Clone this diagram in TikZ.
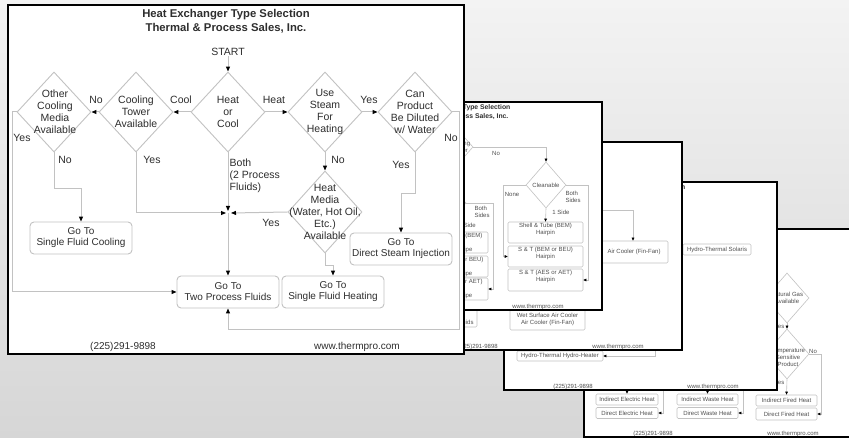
\documentclass[tikz,border=0pt]{standalone}
\usepackage{fontspec}
\setmainfont{Liberation Sans}
\usetikzlibrary{arrows.meta,shapes.geometric}
\definecolor{lnc}{HTML}{C2C2C2}
\definecolor{txc}{HTML}{2E2E2E}
\definecolor{stc}{HTML}{505050}
\definecolor{bgtop}{HTML}{F3F3F3}
\definecolor{bgbot}{HTML}{D6D6D6}
\newcommand\pagettl[3]{%
  \node[ttl] (t1#3) at (#1+131,#2+6) {Heat Exchanger Type Selection};
  \node[ttl] (t2#3) at (#1+131,#2+14.5) {Thermal \& Process Sales, Inc.};}
\newcommand\pageftr[3]{%
  \node[ftr] (f1#3) at (#1+69,#2+205) {(225)291-9898};
  \node[ftr] (f2#3) at (#1+209,#2+205) {www.thermpro.com};}
\begin{document}
\begin{tikzpicture}[x=1pt,y=-1pt,
  conn/.style={draw=lnc, line width=1pt},
  arr/.style={conn, -{Triangle[length=5pt,width=4pt,color=black]}},
  dia/.style={diamond, draw=lnc, line width=0.9pt, minimum width=74pt, minimum height=80pt, inner sep=0pt},
  txt/.style={text=txc, font=\fontsize{10.5}{12}\selectfont, align=center, inner sep=0pt},
  gobox/.style={rectangle, rounded corners=4pt, draw=lnc, line width=0.9pt, minimum width=102pt, minimum height=32pt, inner sep=0pt, text=txc, font=\fontsize{10}{11}\selectfont, align=center},
  pgfill/.style={fill=white},
  pgline/.style={draw=black, line width=1.3pt},
  ttl/.style={text=txc, font=\fontsize{6.8}{7.5}\bfseries\selectfont, inner sep=0pt},
  ftr/.style={text=stc, font=\fontsize{6}{7}\selectfont, inner sep=0pt},
  stxt/.style={text=stc, font=\fontsize{6}{7}\selectfont, inner sep=0pt, align=center},
  sconn/.style={draw=lnc, line width=0.6pt},
  sarr/.style={sconn, -{Triangle[length=3pt,width=2.6pt,color=black]}},
  sdia/.style={diamond, draw=lnc, line width=0.6pt, inner sep=0pt},
  sbox/.style={rectangle, rounded corners=1.2pt, draw=lnc, line width=0.6pt, inner sep=0pt}
]
\useasboundingbox (0,0) rectangle (849,438);
\clip (0,0) rectangle (849,438);
\shade[top color=bgtop, bottom color=bgbot] (0,0) rectangle (849,438);

% ---------------- page 5 (back-most)
\fill[pgfill] (584,229) rectangle (857,437);
\begin{scope}
\clip (584,229) rectangle (857,437);
\pageftr{584}{229}{e}
\node[sdia, minimum width=44pt, minimum height=50pt] (ng) at (787,298) {};
\node[stxt] (ngt) at (787,298) {Natural Gas\\Available};
\node[sdia, minimum width=44pt, minimum height=50pt] (ts) at (787,354) {};
\node[stxt] (tst) at (788,357) {Temperature\\Sensitive\\Product};
\node[sbox, minimum width=61pt, minimum height=11pt] (ifh) at (786.5,400.5) {};
\node[stxt] at (ifh) {Indirect Fired Heat};
\node[sbox, minimum width=61pt, minimum height=12pt] (dfh) at (786.5,414) {};
\node[stxt] at (dfh) {Direct Fired Heat};
\node[sbox, minimum width=61pt, minimum height=11pt] (iwh) at (707.5,399.5) {};
\node[stxt] at (iwh) {Indirect Waste Heat};
\node[sbox, minimum width=61pt, minimum height=11pt] (dwh) at (707.5,413) {};
\node[stxt] at (dwh) {Direct Waste Heat};
\node[sbox, minimum width=62pt, minimum height=11pt] (ieh) at (627,399.5) {};
\node[stxt] at (ieh) {Indirect Electric Heat};
\node[sbox, minimum width=62pt, minimum height=11pt] (deh) at (627,413) {};
\node[stxt] at (deh) {Direct Electric Heat};
\draw[sarr] (ng.south) -- (ts.north);
\draw[sarr] (ts.south) -- (ifh.north);
\coordinate (p5a) at (821,354);
\draw[sarr] (ts.east) -- (p5a) |- (dfh.east);
\node[stxt, anchor=east] (y5a) at (784.5,326) {Yes};
\node[stxt, anchor=east] (y5b) at (784.5,382) {Yes};
\node[stxt] (n5a) at (813,351) {No};
\coordinate (p5b) at (707.5,380);
\draw[sarr] (p5b) -- (iwh.north);
\coordinate (p5c) at (743,380);
\draw[sarr] (p5c) |- (dwh.east);
\coordinate (p5d) at (627,380);
\draw[sarr] (p5d) -- (ieh.north);
\coordinate (p5e) at (663,380);
\draw[sarr] (p5e) |- (deh.east);
\end{scope}
\draw[pgline] (584,229) rectangle (857,437);

% ---------------- page 4
\fill[pgfill] (504,182) rectangle (777,390);
\begin{scope}
\clip (504,182) rectangle (777,390);
\pagettl{504}{182}{d}
\pageftr{504}{182}{d}
\node[sbox, minimum width=68pt, minimum height=11pt] (sol) at (717,249.5) {};
\node[stxt] at (sol) {Hydro-Thermal Solaris};
\coordinate (p4a) at (650,249.5);
\draw[sarr] (p4a) -- (sol.west);
\node[sbox, minimum width=86pt, minimum height=10pt] (hyh) at (560,356) {};
\node[stxt] at (hyh) {Hydro-Thermal Hydro-Heater};
\coordinate (p4b) at (655,330);
\draw[sarr] (p4b) |- (hyh.east);
\end{scope}
\draw[pgline] (504,182) rectangle (777,390);

% ---------------- page 3
\fill[pgfill] (409,142) rectangle (682,350);
\begin{scope}
\clip (409,142) rectangle (682,350);
\pageftr{409}{142}{c}
\node[sbox, minimum width=70pt, minimum height=22pt] (acf) at (633,252) {};
\node[stxt] at (634,252) {Air Cooler (Fin-Fan)};
\coordinate (p3a) at (560,210);
\draw[sarr] (p3a) -| (acf.north);
\node[sbox, minimum width=75pt, minimum height=30pt] (wsa) at (547.5,315) {};
\node[stxt] at (547.5,319) {Wet Surface Air Cooler\\Air Cooler (Fin-Fan)};
\node[sbox, minimum width=59pt, minimum height=22pt] (tp3) at (447.5,316) {};
\node[stxt] at (447.5,318.5) {Go To\\Two Process Fluids};
\end{scope}
\draw[pgline] (409,142) rectangle (682,350);

% ---------------- page 2
\fill[pgfill] (329,102) rectangle (602,310);
\begin{scope}
\clip (329,102) rectangle (602,310);
\pagettl{329}{102}{b}
\pageftr{329}{102}{b}
\node[sdia, minimum width=42pt, minimum height=48pt] (d2a) at (452,147) {};
\node[stxt] (d2at) at (460,147) {Cooling\\Water};
\node[sdia, minimum width=40pt, minimum height=46pt] (cl) at (546,185) {};
\node[stxt] at (cl) {Cleanable};
\draw[sarr] (d2a.east) -| (cl.north);
\node[stxt] (n2a) at (496,153) {No};
\node[sbox, minimum width=75pt, minimum height=21pt] (ba) at (545.5,232.5) {};
\node[stxt] at (545.5,229.5) {Shell \& Tube (BEM)\\Hairpin};
\node[sbox, minimum width=75pt, minimum height=21pt] (bb) at (545.5,256.5) {};
\node[stxt] at (545.5,253.5) {S \& T (BEM or BEU)\\Hairpin};
\node[sbox, minimum width=75pt, minimum height=22pt] (bc) at (545.5,280) {};
\node[stxt] at (545.5,276.5) {S \& T (AES or AET)\\Hairpin};
\coordinate (p2a) at (503,185);
\draw[sarr] (cl.west) -- (p2a) |- (bb.west);
\coordinate (p2b) at (588,185);
\draw[sarr] (cl.east) -- (p2b) |- (bc.east);
\draw[sarr] (cl.south) -- (ba.north);
\node[stxt] (none2) at (512,194) {None};
\node[stxt, align=left] (both2) at (573,197) {Both\\Sides};
\node[stxt] (one2) at (561,212) {1 Side};
% left column (mostly hidden)
\node[sdia, minimum width=42pt, minimum height=46pt] (d2b) at (445,203) {};
\node[sbox, minimum width=64pt, minimum height=21pt] (ba2) at (456,242.5) {};
\node[stxt] at (456,242.5) {Shell \& Tube (BEM)\\Hairpin\\Double Pipe};
\node[sbox, minimum width=64pt, minimum height=21pt] (bb2) at (456,266.5) {};
\node[stxt] at (456,266.5) {S \& T (BEM or BEU)\\Hairpin\\Double Pipe};
\node[sbox, minimum width=64pt, minimum height=22pt] (bc2) at (456,289) {};
\node[stxt] at (456,289) {S \& T (AES or AET)\\Hairpin\\Double Pipe};
\coordinate (p2c) at (493,203);
\draw[sarr] (d2b.east) -- (p2c) |- (bc2.east);
\node[stxt, align=left] (both2b) at (482,212) {Both\\Sides};
\node[stxt, anchor=east] (one2b) at (476,225) {1 Side};
\end{scope}
\draw[pgline] (329,102) rectangle (602,310);

% ---------------- page 1 (front)
\fill[pgfill] (8,5) rectangle (464,354);
\node[text=txc, font=\fontsize{11.3}{13}\bfseries\selectfont, inner sep=0pt] (title1) at (226,15) {Heat Exchanger Type Selection};
\node[text=txc, font=\fontsize{11.3}{13}\bfseries\selectfont, inner sep=0pt] (title2) at (226,28) {Thermal \& Process Sales, Inc.};
\node[txt] (start) at (228,52) {START};

\node[dia] (hc) at (228,112) {};
\node[txt] at (hc) {Heat\\or\\Cool};
\node[dia] (ct) at (136,112) {};
\node[txt] at (ct) {Cooling\\Tower\\Available};
\node[dia] (oc) at (54,112) {};
\node[txt] at (55,112) {Other\\Cooling\\Media\\Available};
\node[dia] (st) at (325,112) {};
\node[txt] at (st) {Use\\Steam\\For\\Heating};
\node[dia] (cp) at (415,112) {};
\node[txt] at (415,112) {Can\\Product\\Be Diluted\\w/ Water};
\node[dia, minimum height=82pt] (hm) at (325,212) {};
\node[txt] at (325,211.5) {Heat\\Media\\(Water, Hot Oil,\\Etc.)\\Available};

\node[gobox] (sfc) at (81,238) {Go To\\Single Fluid Cooling};
\node[gobox] (tpf) at (228,292) {Go To\\Two Process Fluids};
\node[gobox] (sfh) at (333,292) {Go To\\Single Fluid Heating};
\node[gobox] (dsi) at (401,249) {Go To\\Direct Steam Injection};

\coordinate (j) at (228,213);
\coordinate (jl) at (226,213);
\coordinate (jt) at (228,211);
\coordinate (jr) at (231,213);
\coordinate (ol) at (12,112);
\coordinate (rr) at (459,330);

\draw[arr] (start) -- (hc.north);
\draw[arr] (hc.west) -- (ct.east);
\draw[arr] (ct.west) -- (oc.east);
\draw[arr] (hc.east) -- (st.west);
\draw[arr] (st.east) -- (cp.west);
\draw[arr] (st.south) -- (hm.north);
\draw[arr] (oc.west) -- (ol) |- (tpf.west);
\draw[arr] (oc.south) -- ++(0,36) -| (sfc.north);
\draw[arr] (ct.south) |- (jl);
\draw[arr] (hc.south) -- (jt);
\draw[arr] (hm.west) -- (jr);
\draw[arr] (j) -- (tpf.north);
\draw[arr] (hm.south) -- ++(0,12) -| (sfh.north);
\draw[arr] (cp.south) -- ++(0,41) -| (dsi.north);
\draw[arr] (cp.east) -| (rr) -| (tpf.south);

\node[txt] (lcool) at (181,100) {Cool};
\node[txt] (lno1) at (96,100) {No};
\node[txt] (lheat) at (274,100) {Heat};
\node[txt] (lyes1) at (369,100) {Yes};
\node[txt] (lno2) at (451,138) {No};
\node[txt] (lyes2) at (22,138) {Yes};
\node[txt] (lno3) at (65,160) {No};
\node[txt] (lyes3) at (152,160) {Yes};
\node[txt, align=left, anchor=north west] (lboth) at (229.5,159) {Both\\(2 Process\\Fluids)};
\node[txt] (lno4) at (338,160) {No};
\node[txt] (lyes4) at (271,223) {Yes};
\node[txt] (lyes5) at (401,165) {Yes};

\node[txt, font=\fontsize{10}{11}\selectfont] (ph1) at (123,347) {(225)291-9898};
\node[txt, font=\fontsize{10}{11}\selectfont] (www1) at (357,347) {www.thermpro.com};
\draw[pgline] (8,5) rectangle (464,354);
\end{tikzpicture}
\end{document}
